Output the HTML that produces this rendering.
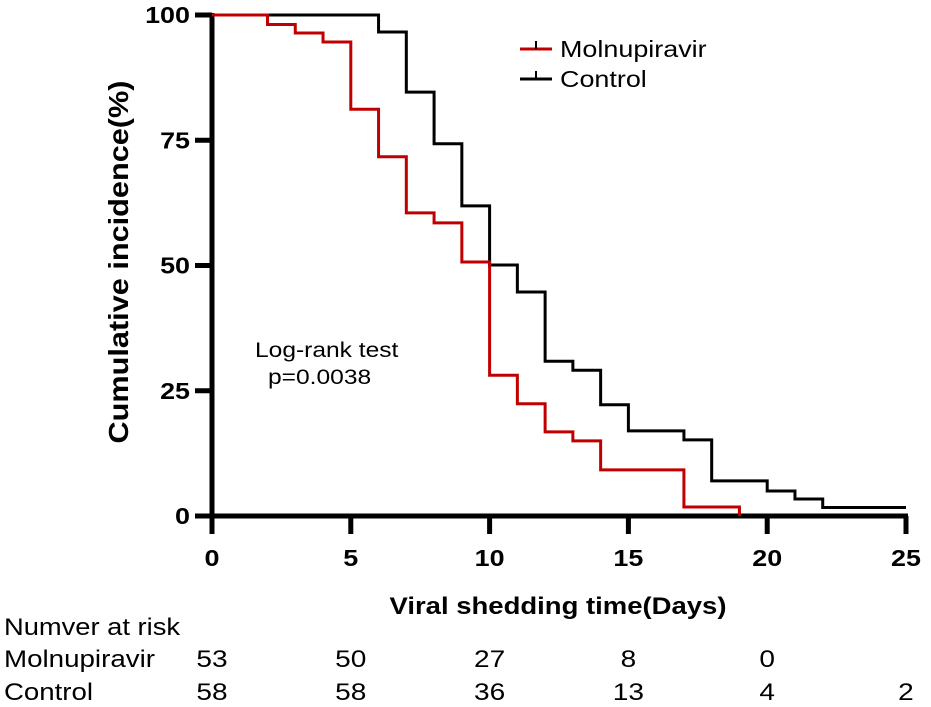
<!DOCTYPE html>
<html><head><meta charset="utf-8"><style>
body{margin:0;background:#fff;}
svg{display:block;font-family:"Liberation Sans",Arial,sans-serif;}
</style></head><body>
<svg id="chart" width="931" height="707" viewBox="0 0 931 707">
<g id="axes"></g><g id="series"></g>
<g>
 <g>
  <line x1="520" y1="49" x2="552" y2="49" stroke="#c00000" stroke-width="3"/>
  <line x1="536" y1="41" x2="536" y2="49" stroke="#000" stroke-width="2"/>
  <text class="w" x="560" y="57" font-size="23">Molnupiravir</text>
 </g>
 <g>
  <line x1="520" y1="79" x2="552" y2="79" stroke="#000" stroke-width="3"/>
  <line x1="536" y1="71" x2="536" y2="79" stroke="#000" stroke-width="2"/>
  <text class="w" x="560" y="87" font-size="23">Control</text>
 </g>
</g>
<text class="w" x="255" y="357" font-size="21">Log-rank test</text>
<text class="w" x="268" y="384" font-size="21">p=0.0038</text>
<text transform="translate(128,262) rotate(-90)" font-size="28" font-weight="bold" text-anchor="middle" textLength="363" lengthAdjust="spacingAndGlyphs">Cumulative incidence(%)</text>
<text x="558" y="614" font-size="24" font-weight="bold" text-anchor="middle" textLength="337" lengthAdjust="spacingAndGlyphs">Viral shedding time(Days)</text>
<text x="4" y="635" font-size="24" textLength="176" lengthAdjust="spacingAndGlyphs">Numver at risk</text>
<text x="4" y="667" font-size="24" textLength="151" lengthAdjust="spacingAndGlyphs">Molnupiravir</text>
<text x="4" y="700" font-size="24" textLength="89" lengthAdjust="spacingAndGlyphs">Control</text>
<g id="risk"></g>
</svg>
<script>
const xTicks=[0,5,10,15,20,25];
const yTicks=[0,25,50,75,100];
const molnTimes=[0,2,3,4,5,6,7,8,9,10,11,12,13,14,17,19];
const molnValues=[100,98.1,96.4,94.6,81.2,71.7,60.5,58.5,50.7,28.1,22.4,16.8,15.0,9.2,1.8,0];
const ctrlTimes=[0,6,7,8,9,10,11,12,13,14,15,17,18,20,21,22,25];
const ctrlValues=[100,96.6,84.6,74.3,61.9,50.1,44.7,30.9,29.1,22.2,17.0,15.2,7.0,5.0,3.4,1.7,1.7];
const riskTimes=[0,5,10,15,20,25];
const riskMoln=["53","50","27","8","0",""];
const riskCtrl=["58","58","36","13","4","2"];
const NS="http://www.w3.org/2000/svg";
const X=t=>212+t*27.76, Y=v=>516-v*5.01;
function mk(tag,attrs,parent,txt){const e=document.createElementNS(NS,tag);for(const k in attrs)e.setAttribute(k,attrs[k]);if(txt!==undefined)e.textContent=txt;parent.appendChild(e);return e;}
const axes=document.getElementById('axes');
let e=mk('line',{x1:212,y1:Y(100)-2,x2:212,y2:522,stroke:'#000','stroke-width':5},axes);


e=mk('line',{x1:210,y1:516,x2:X(25)+2,y2:516,stroke:'#000','stroke-width':5},axes);


xTicks.forEach(t=>{
 const l=mk('line',{x1:X(t),y1:516,x2:X(t),y2:534,stroke:'#000','stroke-width':5},axes);
 
 
 const s=mk('text',{class:'w',x:X(t),y:566,'font-size':23,'font-weight':'bold','text-anchor':'middle'},axes,String(t));
 
 
});
yTicks.forEach(v=>{
 const l=mk('line',{x1:195,y1:Y(v),x2:212,y2:Y(v),stroke:'#000','stroke-width':5},axes);
 
 
 const s=mk('text',{class:'w',x:190,y:Y(v)+8,'font-size':23,'font-weight':'bold','text-anchor':'end'},axes,String(v));
 
 
});
function step(ts,vs){let d='M'+X(ts[0])+','+Y(vs[0]);for(let i=1;i<ts.length;i++){d+=' H'+X(ts[i])+' V'+Y(vs[i]);}return d;}
const series=document.getElementById('series');
e=mk('path',{d:step(ctrlTimes,ctrlValues),fill:'none',stroke:'#000','stroke-width':3},series);


e=mk('path',{d:step(molnTimes,molnValues),fill:'none',stroke:'#c00000','stroke-width':3},series);


const risk=document.getElementById('risk');
riskTimes.forEach((t,i)=>{
 const a=mk('text',{class:'w',x:X(t),y:667,'font-size':24,'text-anchor':'middle'},risk,riskMoln[i]);
 
 
 const b=mk('text',{class:'w',x:X(t),y:700,'font-size':24,'text-anchor':'middle'},risk,riskCtrl[i]);
 
 
});
document.querySelectorAll('text.w').forEach(t=>{
 const w=t.getComputedTextLength();
 if(w>0){t.setAttribute('textLength',(w*1.17).toFixed(1));t.setAttribute('lengthAdjust','spacingAndGlyphs');}
});
</script>
</body></html>
